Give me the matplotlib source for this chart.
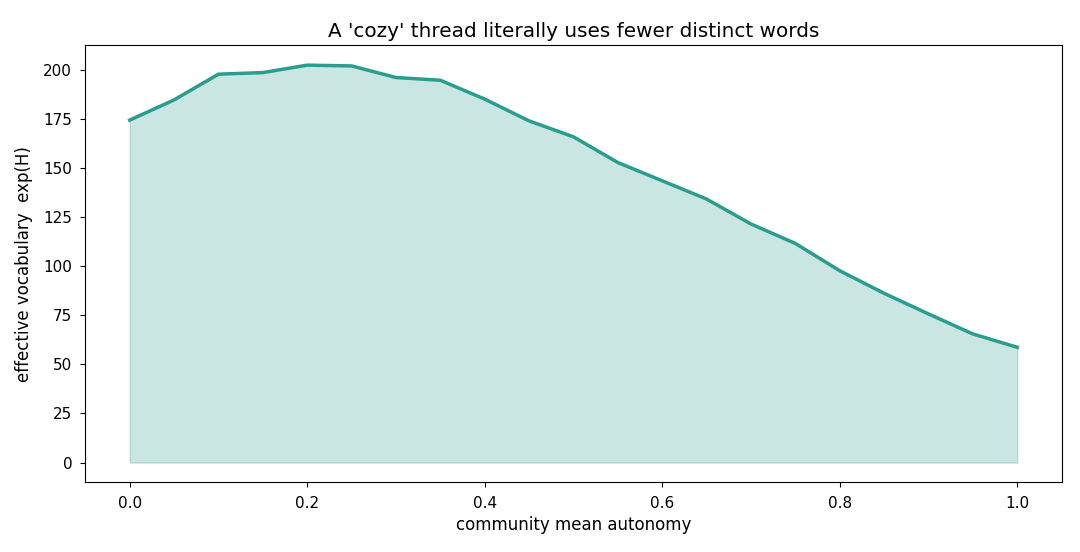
import numpy as np
import matplotlib
matplotlib.use('Agg')
import matplotlib.pyplot as plt

# community mean autonomy vs effective vocabulary
autonomy = [0.0, 0.05, 0.1, 0.15, 0.2, 0.25, 0.3, 0.35, 0.4, 0.45, 0.5,
            0.55, 0.6, 0.65, 0.7, 0.75, 0.8, 0.85, 0.9, 0.95, 1.0]
vocab = [174.4, 184.7, 197.8, 198.6, 202.4, 202.0, 196.1, 194.7, 185.1, 174.0, 165.9,
         152.8, 143.5, 134.2, 121.5, 111.6, 97.7, 86.2, 75.7, 65.5, 58.7]

color = '#2a9d8f'

fig = plt.figure(figsize=(10.8, 5.52), dpi=100)
ax = fig.add_subplot(111)

ax.fill_between(autonomy, vocab, color=color, alpha=0.25)
ax.plot(autonomy, vocab, color=color, linewidth=2.5)

ax.set_title("A 'cozy' thread literally uses fewer distinct words", fontsize=14.4)
ax.set_xlabel('community mean autonomy', fontsize=12)
ax.set_ylabel('effective vocabulary  exp(H)', fontsize=12, labelpad=7.5)
ax.tick_params(axis='both', labelsize=11, pad=6)

fig.subplots_adjust(left=0.079, right=0.983, top=0.918, bottom=0.126)
fig.savefig('out.png', dpi=100)
